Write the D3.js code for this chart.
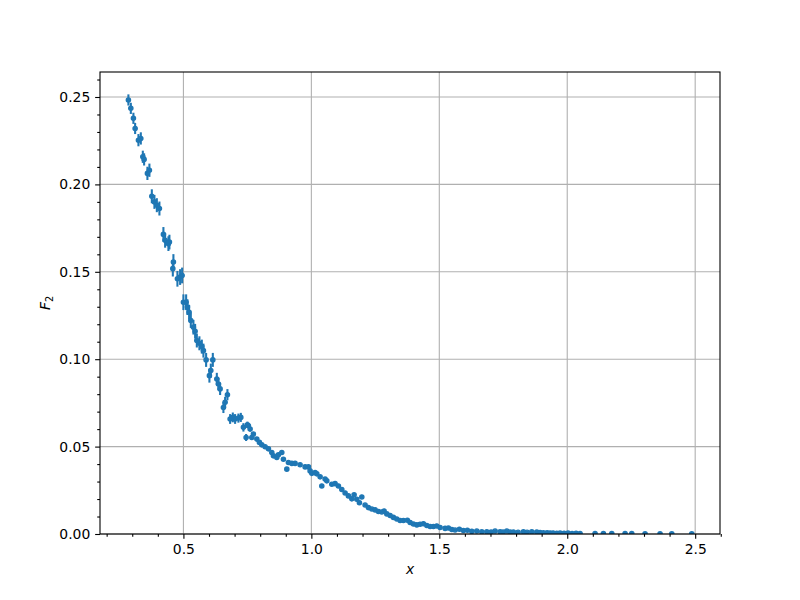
<!DOCTYPE html>
<html>
<head>
<meta charset="utf-8">
<script src="https://cdn.jsdelivr.net/npm/d3@7"></script>
<style>
html,body{margin:0;padding:0;background:#fff;}
svg{display:block;font-family:"DejaVu Sans",sans-serif;}
</style>
</head>
<body>
<svg id="chart" width="800" height="600"></svg>
<script>
// ---- data ----
const xVals = [
0.2850,0.2945,0.3046,0.3113,0.3242,0.3335,0.3413,0.3464,0.3593,0.3671,
0.3765,0.3867,0.3961,0.4062,0.4218,0.4285,0.4414,0.4453,0.4586,0.4609,
0.4766,0.4871,0.4949,0.5000,0.5106,0.5156,0.5223,0.5289,0.5391,0.5457,
0.5524,0.5625,0.5719,0.5782,0.5887,0.6016,0.6071,0.6149,0.6305,0.6368,
0.6434,0.6563,0.6630,0.6720,0.6825,0.6930,0.7020,0.7149,0.7243,0.7345,
0.7450,0.7501,0.7540,0.7607,0.7673,0.7735,0.7868,0.7970,0.8064,0.8193,
0.8322,0.8454,0.8517,0.8650,0.8712,0.8845,0.8908,0.9041,0.9103,0.9236,
0.9365,0.9560,0.9756,0.9885,0.9951,1.0018,1.0147,1.0213,1.0342,1.0408,
1.0537,1.0604,1.0799,1.0928,1.1057,1.1190,1.1319,1.1448,1.1581,1.1671,
1.1776,1.1878,1.1972,1.2100,1.2229,1.2362,1.2491,1.2620,1.2753,1.2843,
1.2948,1.3078,1.3206,1.3339,1.3468,1.3597,1.3753,1.3859,1.3988,1.4121,
1.4250,1.4379,1.4512,1.4641,1.4770,1.4902,1.5031,1.5227,1.5356,1.5489,
1.5617,1.5785,1.5942,1.6098,1.6270,1.6465,1.6661,1.6856,1.7024,1.7181,
1.7376,1.7493,1.7638,1.7767,1.7896,1.8079,1.8287,1.8431,1.8615,1.8810,
1.8939,1.9068,1.9213,1.9330,1.9447,1.9591,1.9721,1.9877,2.0033,2.0190,
2.0346,2.0502,2.1088,2.1413,2.1741,2.2261,2.2522,2.3042,2.3628,2.4086,
2.4867
];
const f2Vals = [
0.2483,0.2435,0.2378,0.2320,0.2253,0.2263,0.2158,0.2143,0.2063,0.2081,
0.1932,0.1900,0.1881,0.1862,0.1714,0.1680,0.1661,0.1670,0.1518,0.1556,
0.1460,0.1470,0.1479,0.1326,0.1326,0.1298,0.1269,0.1221,0.1183,0.1160,
0.1107,0.1091,0.1072,0.1049,0.0996,0.0906,0.0935,0.0996,0.0887,0.0858,
0.0830,0.0724,0.0753,0.0797,0.0658,0.0667,0.0658,0.0663,0.0667,0.0610,
0.0552,0.0625,0.0619,0.0600,0.0552,0.0572,0.0543,0.0524,0.0510,0.0499,
0.0487,0.0466,0.0447,0.0438,0.0453,0.0466,0.0428,0.0371,0.0409,0.0404,
0.0404,0.0396,0.0384,0.0384,0.0361,0.0347,0.0351,0.0344,0.0327,0.0275,
0.0314,0.0304,0.0285,0.0288,0.0275,0.0255,0.0235,0.0218,0.0201,0.0224,
0.0199,0.0179,0.0212,0.0166,0.0151,0.0143,0.0138,0.0129,0.0126,0.0132,
0.0115,0.0106,0.0095,0.0086,0.0077,0.0077,0.0079,0.0066,0.0057,0.0052,
0.0056,0.0059,0.0049,0.0043,0.0043,0.0046,0.0037,0.0032,0.0034,0.0026,
0.0023,0.0027,0.0020,0.0021,0.0015,0.0017,0.0013,0.0013,0.0011,0.0017,
0.0013,0.0011,0.0017,0.0011,0.0011,0.0010,0.0013,0.0010,0.0013,0.0011,
0.0009,0.0007,0.0007,0.0006,0.0006,0.0004,0.0005,0.0004,0.0005,0.0003,
0.0004,0.0003,0.0003,0.0003,0.0002,0.0002,0.0002,0.0001,0.0001,0.0001,
0.0001
];
const errVals = [
0.0032,0.0032,0.0032,0.0032,0.0035,0.0035,0.0035,0.0035,0.0038,0.0038,
0.0040,0.0040,0.0040,0.0040,0.0042,0.0042,0.0042,0.0042,0.0045,0.0045,
0.0045,0.0045,0.0045,0.0045,0.0045,0.0045,0.0042,0.0042,0.0042,0.0042,
0.0040,0.0040,0.0040,0.0040,0.0040,0.0040,0.0040,0.0040,0.0035,0.0035,
0.0035,0.0032,0.0032,0.0032,0.0028,0.0028,0.0028,0.0026,0.0026,0.0024,
0.0020,0.0018,0.0012,0.0012,0.0012,0.0012,0.0012,0.0011,0.0011,0.0011,
0.0010,0.0010,0.0010,0.0010,0.0010,0.0010,0.0009,0.0009,0.0009,0.0009,
0.0009,0.0008,0.0008,0.0008,0.0008,0.0008,0.0007,0.0007,0.0007,0.0007,
0.0007,0.0007,0.0006,0.0006,0.0006,0.0006,0.0006,0.0006,0.0005,0.0005,
0.0005,0.0005,0.0005,0.0005,0.0004,0.0004,0.0004,0.0004,0.0004,0.0004,
0.0004,0.0003,0.0003,0.0003,0.0003,0.0003,0.0003,0.0003,0.0003,0.0003,
0.0002,0.0002,0.0002,0.0002,0.0002,0.0002,0.0002,0.0002,0.0002,0.0002,
0.0002,0.0002,0.0001,0.0001,0.0001,0.0001,0.0001,0.0001,0.0001,0.0001,
0.0001,0.0001,0.0001,0.0001,0.0001,0.0001,0.0001,0.0001,0.0001,0.0001,
0.0001,0.0001,0.0001,0.0001,0.0001,0.0001,0.0001,0.0001,0.0001,0.0001,
0.0001,0.0001,0.0001,0.0001,0.0001,0.0001,0.0001,0.0001,0.0001,0.0001,
0.0001
];
const xTickLabels = ["0.5","1.0","1.5","2.0","2.5"];
const yTickLabels = ["0.00","0.05","0.10","0.15","0.20","0.25"];
const xMinorTicks = [0.2,0.3,0.4,0.6,0.7,0.8,0.9,1.1,1.2,1.3,1.4,1.6,1.7,1.8,1.9,2.1,2.2,2.3,2.4,2.6];
const yMinorTicks = [0.01,0.02,0.03,0.04,0.06,0.07,0.08,0.09,0.11,0.12,0.13,0.14,0.16,0.17,0.18,0.19,0.21,0.22,0.23,0.24,0.26];
const xDomain = [0.174, 2.597];
const yDomain = [0, 0.2643];

// ---- layout ----
const L = 100, T = 72, W = 620, H = 462;
const color = "#1f77b4";
const svg = d3.select("#chart");

const x = d3.scaleLinear().domain(xDomain).range([L, L + W]);
const y = d3.scaleLinear().domain(yDomain).range([T + H, T]);

const data = xVals.map((v, i) => ({x: v, y: f2Vals[i], e: errVals[i]}));
const xMajor = xTickLabels.map(Number);
const yMajor = yTickLabels.map(Number);

// grid
const grid = svg.append("g");
grid.selectAll("line.gx").data(xMajor).join("line")
  .attr("x1", d => x(d)).attr("x2", d => x(d))
  .attr("y1", T).attr("y2", T + H)
  .attr("stroke", "#b0b0b0").attr("stroke-width", 1.1);
grid.selectAll("line.gy").data(yMajor).join("line")
  .attr("x1", L).attr("x2", L + W)
  .attr("y1", d => y(d)).attr("y2", d => y(d))
  .attr("stroke", "#b0b0b0").attr("stroke-width", 1.1);

// clip
svg.append("defs").append("clipPath").attr("id", "clip")
  .append("rect").attr("x", L).attr("y", T).attr("width", W).attr("height", H);

const plot = svg.append("g").attr("clip-path", "url(#clip)");
plot.selectAll("line.err").data(data).join("line")
  .attr("x1", d => x(d.x)).attr("x2", d => x(d.x))
  .attr("y1", d => y(d.y - d.e)).attr("y2", d => y(d.y + d.e))
  .attr("stroke", color).attr("stroke-width", 2.08);
plot.selectAll("circle").data(data).join("circle")
  .attr("cx", d => x(d.x)).attr("cy", d => y(d.y))
  .attr("r", 2.1)
  .attr("fill", color).attr("stroke", color).attr("stroke-width", 1.39);

// axes
const fontSize = 13.9;
const xAxis = svg.append("g").attr("transform", `translate(0,${T + H})`)
  .call(d3.axisBottom(x).tickValues(xMajor).tickFormat((d, i) => xTickLabels[i]).tickSize(4.86).tickPadding(4.86));
const xMinor = svg.append("g").attr("transform", `translate(0,${T + H})`)
  .call(d3.axisBottom(x).tickValues(xMinorTicks).tickFormat("").tickSize(2.78));
const yAxis = svg.append("g").attr("transform", `translate(${L},0)`)
  .call(d3.axisLeft(y).tickValues(yMajor).tickFormat((d, i) => yTickLabels[i]).tickSize(4.86).tickPadding(4.86));
const yMinor = svg.append("g").attr("transform", `translate(${L},0)`)
  .call(d3.axisLeft(y).tickValues(yMinorTicks).tickFormat("").tickSize(2.78));

[xAxis, xMinor, yAxis, yMinor].forEach(g => {
  g.select(".domain").remove();
  g.selectAll(".tick line").attr("stroke", "#000").attr("stroke-width", 1.1);
  g.selectAll(".tick text").attr("fill", "#000")
    .style("font-family", "'DejaVu Sans', sans-serif").style("font-size", fontSize + "px");
});

// spines
svg.append("rect").attr("x", L).attr("y", T).attr("width", W).attr("height", H)
  .attr("fill", "none").attr("stroke", "#000").attr("stroke-width", 1.1);

// axis labels
svg.append("text").attr("x", L + W / 2).attr("y", 574)
  .attr("text-anchor", "middle")
  .style("font-family", "'DejaVu Sans', sans-serif").style("font-size", fontSize + "px")
  .style("font-style", "italic").text("x");

const yl = svg.append("text")
  .attr("transform", `translate(50,${T + H / 2}) rotate(-90)`)
  .attr("text-anchor", "middle")
  .style("font-family", "'DejaVu Sans', sans-serif").style("font-size", fontSize + "px");
yl.append("tspan").style("font-style", "italic").text("F");
yl.append("tspan").attr("dy", 3).style("font-size", "9.7px").text("2");
</script>
</body>
</html>
